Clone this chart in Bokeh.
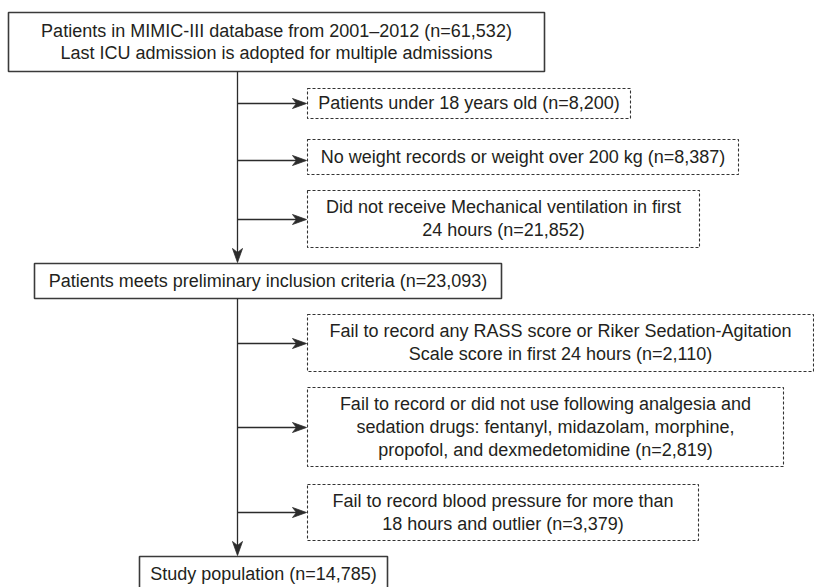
from bokeh.plotting import figure
from bokeh.models import Range1d
from bokeh.core.properties import value
from bokeh.embed import file_html
from bokeh.resources import INLINE

# ---- data ----
main_labels = ["Patients in MIMIC-III database from 2001\u20132012",
               "Patients meets preliminary inclusion criteria",
               "Study population"]
main_counts = [61532, 23093, 14785]
main_notes = ["Last ICU admission is adopted for multiple admissions", "", ""]

excl_reasons = ["Patients under 18 years old",
                "No weight records or weight over 200 kg",
                "Did not receive Mechanical ventilation in first\n24 hours",
                "Fail to record any RASS score or Riker Sedation-Agitation\nScale score in first 24 hours",
                "Fail to record or did not use following analgesia and\nsedation drugs: fentanyl, midazolam, morphine,\npropofol, and dexmedetomidine",
                "Fail to record blood pressure for more than\n18 hours and outlier"]
excl_counts = [8200, 8387, 21852, 2110, 2819, 3379]

# ---- layout (page pixel coordinates) ----
FONT = value("Liberation Sans")
FS = "18px"
TXT = "#231f20"
LINE = "#2b2b2b"
LH = 23

main_box = [(8, 544, 12, 71), (34, 501, 263, 298), (139, 387, 556, 591)]
excl_box = [(307, 630, 88, 118), (307, 738, 139, 174), (307, 699, 190, 247),
            (307, 813, 314, 371), (307, 783, 387, 466), (307, 698, 484, 540)]
excl_arrow_y = [103, 160, 219, 343, 427, 512]
trunk_x = 237

W, H = 814, 587
p = figure(width=W, height=H, output_backend="svg", toolbar_location=None,
           x_range=Range1d(0, W), y_range=Range1d(H, 0),
           min_border=0, min_border_left=0, min_border_right=0,
           min_border_top=0, min_border_bottom=0)
p.axis.visible = False
p.grid.visible = False
p.outline_line_color = None
p.background_fill_color = "white"
p.border_fill_color = "white"

# main boxes
p.quad(left=[b[0] for b in main_box], right=[b[1] for b in main_box],
       top=[b[2] for b in main_box], bottom=[b[3] for b in main_box],
       fill_color="white", line_color="#3a3a3a", line_width=1.6)

# exclusion boxes (dashed)
p.quad(left=[b[0] for b in excl_box], right=[b[1] for b in excl_box],
       top=[b[2] for b in excl_box], bottom=[b[3] for b in excl_box],
       fill_color="white", line_color="#333333", line_width=1.1, line_dash="3 2")

# text of main boxes
tx, ty, tt = [], [], []
for (l, r, t, b), lab, cnt, note in zip(main_box, main_labels, main_counts, main_notes):
    lines = [f"{lab} (n={cnt:,})"] + ([note] if note else [])
    cy = (t + b) / 2 if b < H else t + 17
    n = len(lines)
    for i, s in enumerate(lines):
        tx.append((l + r) / 2)
        ty.append(cy + (i - (n - 1) / 2) * (LH - 1))
        tt.append(s)

# text of exclusion boxes
for (l, r, t, b), reason, cnt in zip(excl_box, excl_reasons, excl_counts):
    lines = f"{reason} (n={cnt:,})".split("\n")
    cy = (t + b) / 2 - 0.5
    n = len(lines)
    for i, s in enumerate(lines):
        tx.append((l + r) / 2)
        ty.append(cy + (i - (n - 1) / 2) * LH)
        tt.append(s)

p.text(x=tx, y=ty, text=tt, text_align="center", text_baseline="middle",
       text_font=FONT, text_font_size=FS, text_color=TXT)

# trunks
p.segment(x0=[trunk_x, trunk_x], y0=[main_box[0][3], main_box[1][3]],
          x1=[trunk_x, trunk_x], y1=[main_box[1][2] - 10, main_box[2][2] - 10],
          line_color=LINE, line_width=1.3)

# horizontal connectors
hx0, hy0, hx1, hy1 = [], [], [], []
for ay, b in zip(excl_arrow_y, excl_box):
    hx0.append(trunk_x); hx1.append(b[0] - 10); hy0.append(ay); hy1.append(ay)
p.segment(x0=hx0, y0=hy0, x1=hx1, y1=hy1, line_color=LINE, line_width=1.3)

# arrowheads
xs, ys = [], []
for ay, b in zip(excl_arrow_y, excl_box):
    tip = b[0] - 1
    xs.append([tip, tip - 14, tip - 10, tip - 14])
    ys.append([ay, ay - 5, ay, ay + 5])
for tgt in (main_box[1][2], main_box[2][2]):
    tip = tgt - 1
    xs.append([trunk_x, trunk_x - 5, trunk_x, trunk_x + 5])
    ys.append([tip, tip - 14, tip - 10, tip - 14])
p.patches(xs=xs, ys=ys, fill_color=LINE, line_color=LINE, line_width=0.8)

open("out.html", "w").write(file_html(p, INLINE))
